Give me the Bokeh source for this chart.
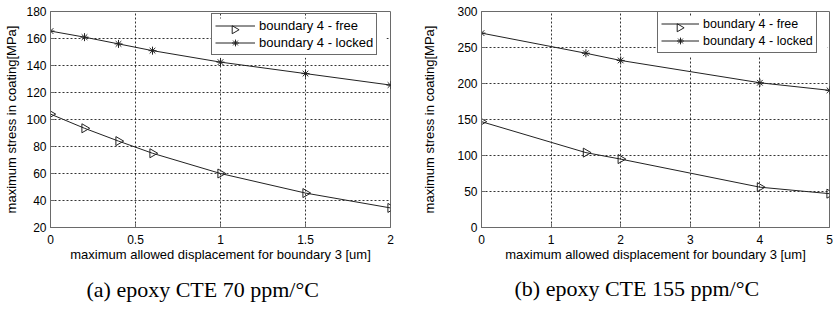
import math
from bokeh.plotting import figure
from bokeh.layouts import row
from bokeh.models import Range1d, FixedTicker, Title, Legend, LegendItem
from bokeh.embed import file_html
from bokeh.resources import INLINE

# ---- panel (a): epoxy CTE 70 ppm/°C ----
a_x = [0, 0.2, 0.4, 0.6, 1.0, 1.5, 2.0]
a_free = [104, 93.5, 84, 75, 60, 45.5, 34.5]
a_locked = [165.5, 161, 156, 151, 142.5, 134, 125.5]
a_xticks = [0, 0.5, 1, 1.5, 2]
a_yticks = [20, 40, 60, 80, 100, 120, 140, 160, 180]
a_caption = "(a) epoxy CTE 70 ppm/°C"

# ---- panel (b): epoxy CTE 155 ppm/°C ----
b_x = [0, 1.5, 2, 4, 5]
b_free = [147, 104, 95, 56, 47]
b_locked = [270, 242, 232, 201, 190.5]
b_xticks = [0, 1, 2, 3, 4, 5]
b_yticks = [0, 50, 100, 150, 200, 250, 300]
b_caption = "(b) epoxy CTE 155 ppm/°C"

series_names = ["boundary 4 - free", "boundary 4 - locked"]
x_label = "maximum allowed displacement for boundary 3 [um]"
y_label = "maximum stress in coating[MPa]"

SANS = "Liberation Sans"
SERIF = "Liberation Serif"
INK = "#222222"
FRAME = "#6a6a6a"
HEIGHT = 314


def make_panel(xs, free, locked, xticks, yticks, caption, width, b_left, b_right,
               b_top, b_bottom, y_label_standoff, glyph_w, leg_font, leg_xy, leg_w,
               cap_offset, cap_standoff):
    p = figure(width=width, height=HEIGHT, output_backend="svg", toolbar_location=None,
               x_range=Range1d(xticks[0], xticks[-1]),
               y_range=Range1d(yticks[0], yticks[-1]),
               min_border_left=b_left, min_border_right=b_right,
               min_border_top=b_top, min_border_bottom=b_bottom)
    p.background_fill_color = "white"
    p.border_fill_color = "white"
    p.outline_line_color = FRAME
    p.outline_line_width = 1
    p.outline_line_alpha = 1

    for ax in (p.xaxis[0], p.yaxis[0]):
        ax.axis_line_color = FRAME
        ax.major_tick_in = 4
        ax.major_tick_out = 0
        ax.major_tick_line_color = FRAME
        ax.minor_tick_line_color = None
        ax.major_label_text_font = SANS
        ax.major_label_text_font_size = "12px"
        ax.major_label_text_color = "black"
        ax.axis_label_text_font = SANS
        ax.axis_label_text_font_size = "13px"
        ax.axis_label_text_font_style = "normal"
        ax.axis_label_text_color = "black"
    p.xaxis.ticker = FixedTicker(ticks=xticks)
    p.yaxis.ticker = FixedTicker(ticks=yticks)
    p.xaxis.axis_label = x_label
    p.yaxis.axis_label = y_label
    p.xaxis.major_label_standoff = 7
    p.xaxis.axis_label_standoff = 0
    p.yaxis.major_label_standoff = 4
    p.yaxis.axis_label_standoff = y_label_standoff

    for g in (p.xgrid[0], p.ygrid[0]):
        g.grid_line_color = "black"
        g.grid_line_dash = "2 2"
        g.grid_line_width = 0.8
        g.grid_line_alpha = 1
    p.xgrid.ticker = FixedTicker(ticks=xticks)
    p.ygrid.ticker = FixedTicker(ticks=yticks)

    # screen -> data helpers for the legend box (frame-relative pixels)
    frame_w = width - b_left - b_right
    frame_h = HEIGHT - b_top - b_bottom
    def dx(px):
        return xticks[0] + px / frame_w * (xticks[-1] - xticks[0])
    def dy(py):
        return yticks[0] + py / frame_h * (yticks[-1] - yticks[0])

    pad, row_h = 3, 17
    leg_h = 2 * pad + 2 * row_h
    # white backing for the legend (the legend itself is transparent so that
    # the rotated key marker below can show through)
    p.quad(left=[dx(leg_xy[0])], right=[dx(leg_xy[0] + leg_w)],
           bottom=[dy(leg_xy[1])], top=[dy(leg_xy[1] + leg_h)],
           fill_color="white", line_color=None)

    l1 = p.line(xs, free, line_color=INK, line_width=1)
    p.scatter(xs, free, marker="triangle", size=9, angle=-math.pi / 2,
              fill_color=None, line_color=INK, line_width=1)
    l2 = p.line(xs, locked, line_color=INK, line_width=1)
    m2 = p.scatter(xs, locked, marker="asterisk", size=8,
                   line_color=INK, line_width=1)

    # legend key marker for the "free" entry: right-pointing triangle
    kx = leg_xy[0] + pad + glyph_w / 2
    ky = leg_xy[1] + leg_h - pad - row_h / 2
    p.scatter([dx(kx)], [dy(ky)], marker="triangle", size=8, angle=-math.pi / 2,
              fill_color="white", line_color=INK, line_width=1)

    legend = Legend(items=[LegendItem(label=series_names[0], renderers=[l1]),
                           LegendItem(label=series_names[1], renderers=[l2, m2])],
                    location=leg_xy, padding=pad,
                    spacing=0, glyph_width=glyph_w, glyph_height=row_h,
                    label_height=row_h, label_standoff=4,
                    label_text_font=SANS, label_text_font_size=leg_font,
                    label_text_color="black",
                    border_line_color=FRAME, border_line_width=1,
                    border_line_alpha=1, background_fill_alpha=0)
    p.add_layout(legend)

    t = Title(text=caption, text_font=SERIF, text_font_size="22px",
              text_font_style="normal", text_color="black", align="left",
              offset=cap_offset, standoff=cap_standoff)
    p.add_layout(t, "below")
    return p


pa = make_panel(a_x, a_free, a_locked, a_xticks, a_yticks, a_caption,
                width=418, b_left=50, b_right=28, b_top=8, b_bottom=87,
                y_label_standoff=4, glyph_w=40, leg_font="13px",
                leg_xy=(161, 172), leg_w=175, cap_offset=36, cap_standoff=21)
pb = make_panel(b_x, b_free, b_locked, b_xticks, b_yticks, b_caption,
                width=417, b_left=63, b_right=6, b_top=11, b_bottom=84,
                y_label_standoff=17, glyph_w=38, leg_font="12.5px",
                leg_xy=(176, 174), leg_w=170, cap_offset=33, cap_standoff=19)

layout = row(pa, pb)
open("out.html", "w").write(file_html(layout, INLINE))
